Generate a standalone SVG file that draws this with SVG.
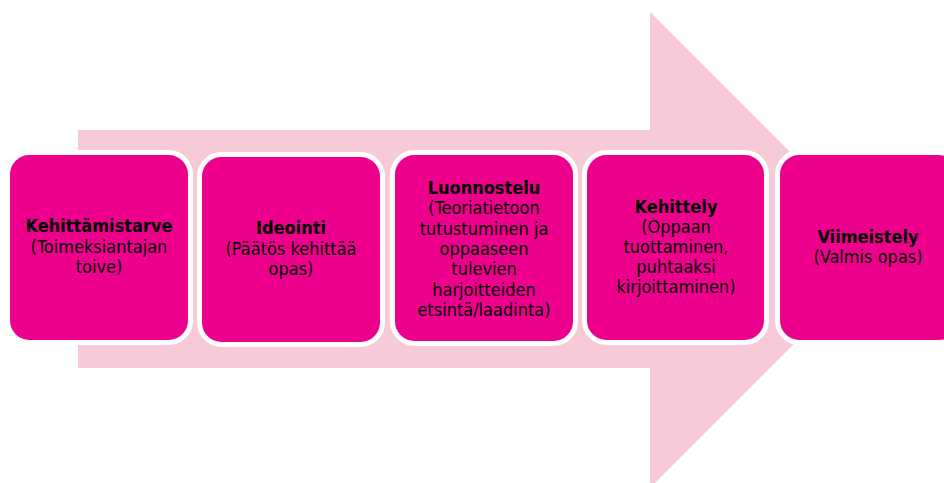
<svg xmlns="http://www.w3.org/2000/svg" width="944" height="483" viewBox="0 0 944 483">
<style>
.box{fill:#EC008C;stroke:#FFFFFF;stroke-width:5}
text{font-family:"DejaVu Sans Condensed","DejaVu Sans",Verdana,sans-serif;font-stretch:condensed;font-size:18px;fill:#000;text-anchor:middle}
.b{font-weight:bold}
</style>
<rect width="944" height="483" fill="#FFFFFF"/>
<g id="connectors">
<polygon points="78,130 650,130 650,12 888,250 650,488 650,368 78,368" fill="#F7CAD8"/>
</g>
<g id="node1">
<rect class="box" x="7.5" y="152.5" width="183" height="190" rx="22"/>
<text x="99" y="232"><tspan class="b">Kehittämistarve</tspan><tspan x="99" dy="20.5">(Toimeksiantajan</tspan><tspan x="99" dy="20.5">toive)</tspan></text>
</g>
<g id="node2">
<rect class="box" x="199.5" y="154.5" width="183" height="190" rx="22"/>
<text x="291" y="234"><tspan class="b">Ideointi</tspan><tspan x="291" dy="20.5">(Päätös kehittää</tspan><tspan x="291" dy="20.5">opas)</tspan></text>
</g>
<g id="node3">
<rect class="box" x="392.5" y="152.5" width="183" height="191" rx="22"/>
<text x="484" y="194"><tspan class="b">Luonnostelu</tspan><tspan x="484" dy="20.3">(Teoriatietoon</tspan><tspan x="484" dy="20.3">tutustuminen ja</tspan><tspan x="484" dy="20.3">oppaaseen</tspan><tspan x="484" dy="20.3">tulevien</tspan><tspan x="484" dy="20.3">harjoitteiden</tspan><tspan x="484" dy="20.3">etsintä/laadinta)</tspan></text>
</g>
<g id="node4">
<rect class="box" x="584.5" y="152.5" width="182" height="190" rx="22"/>
<text x="676" y="213"><tspan class="b">Kehittely</tspan><tspan x="676" dy="20">(Oppaan</tspan><tspan x="676" dy="20">tuottaminen,</tspan><tspan x="676" dy="20">puhtaaksi</tspan><tspan x="676" dy="20">kirjoittaminen)</tspan></text>
</g>
<g id="node5">
<rect class="box" x="777.5" y="152.5" width="183" height="190" rx="22"/>
<text x="868" y="243"><tspan class="b">Viimeistely</tspan><tspan x="868" dy="20">(Valmis opas)</tspan></text>
</g>
</svg>
